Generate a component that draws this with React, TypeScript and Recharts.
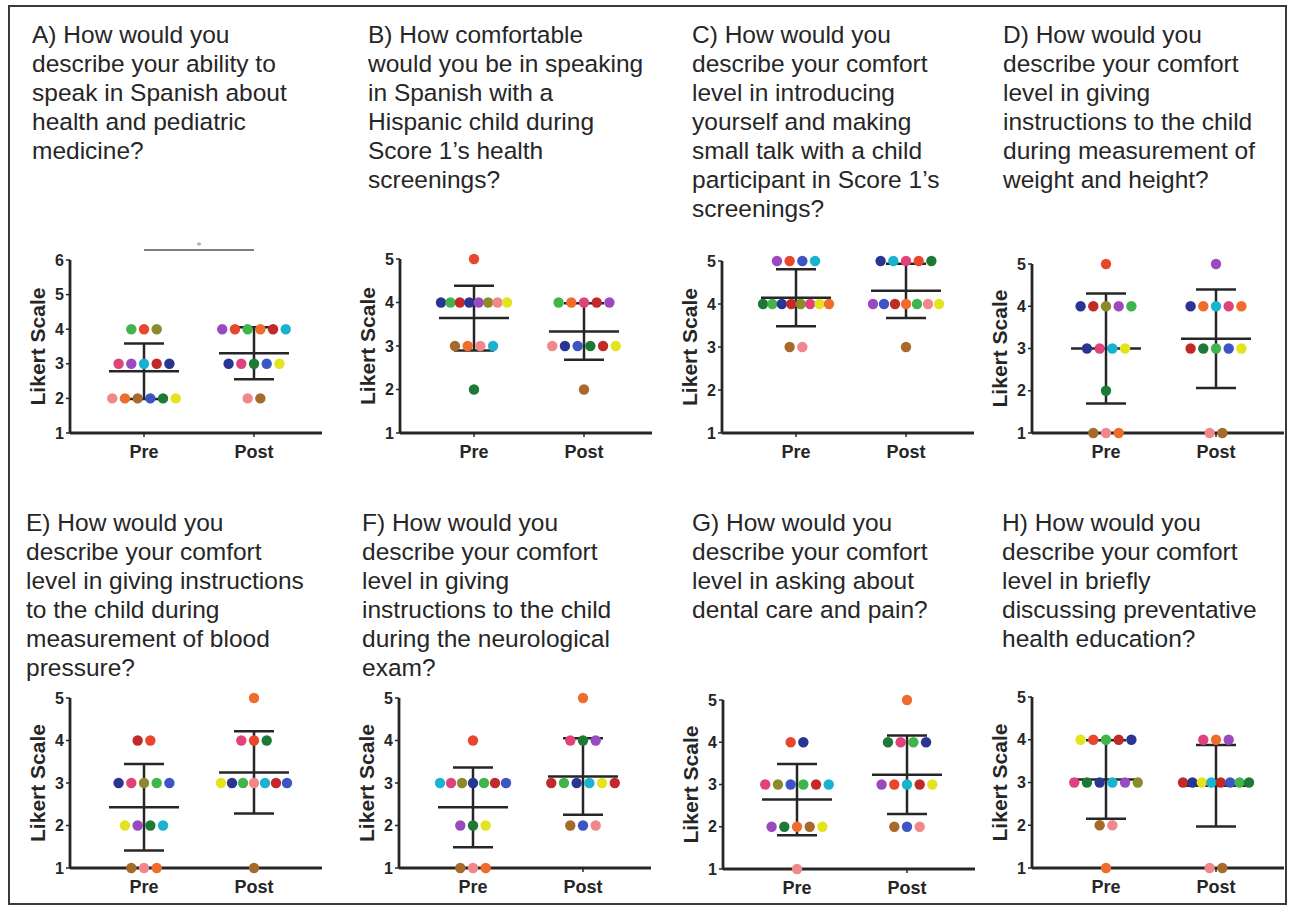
import React from "react";
import { ScatterChart, Scatter, XAxis, YAxis, ReferenceLine } from "recharts";

type Rows = [number, string[]][];

const PALETTE: Record<string, string> = {
  gr: "#3fb54c",
  rd: "#e8472e",
  ol: "#8c8a2c",
  pk: "#e0437b",
  pu: "#9a4ac0",
  cy: "#1ab3cf",
  dr: "#c22a2a",
  nv: "#2a3592",
  bl: "#3b55c4",
  sa: "#f0878a",
  or: "#f06c2c",
  br: "#a66a2a",
  dg: "#1c7a36",
  ye: "#e4e41e",
};

// values: [likert score, participant colours at that score]
const aPre: Rows = [[4, ["gr", "rd", "ol"]], [3, ["pk", "pu", "cy", "dr", "nv"]], [2, ["sa", "or", "br", "bl", "dg", "ye"]]];
const aPost: Rows = [[4, ["pu", "rd", "gr", "or", "dr", "cy"]], [3, ["nv", "pk", "dg", "bl", "ye"]], [2, ["sa", "br"]]];
const bPre: Rows = [[5, ["rd"]], [4, ["nv", "gr", "dr", "nv", "pu", "ol", "sa", "ye"]], [3, ["br", "or", "sa", "cy"]], [2, ["dg"]]];
const bPost: Rows = [[4, ["gr", "or", "pk", "dr", "pu"]], [3, ["sa", "nv", "bl", "dg", "dr", "ye"]], [2, ["br"]]];
const cPre: Rows = [[5, ["pu", "rd", "bl", "cy"]], [4, ["dg", "gr", "nv", "dr", "ol", "pk", "ye", "or"]], [3, ["br", "sa"]]];
const cPost: Rows = [[5, ["nv", "cy", "pk", "rd", "dg"]], [4, ["pu", "bl", "dr", "or", "gr", "sa", "ye"]], [3, ["br"]]];
const dPre: Rows = [[5, ["rd"]], [4, ["nv", "dr", "ol", "pu", "gr"]], [3, ["nv", "pk", "cy", "ye"]], [2, ["dg"]], [1, ["br", "sa", "or"]]];
const dPost: Rows = [[5, ["pu"]], [4, ["nv", "or", "cy", "pk", "or"]], [3, ["dr", "dg", "gr", "bl", "ye"]], [1, ["sa", "br"]]];
const ePre: Rows = [[4, ["dr", "rd"]], [3, ["nv", "pk", "ol", "gr", "bl"]], [2, ["ye", "pu", "dg", "cy"]], [1, ["br", "sa", "or"]]];
const ePost: Rows = [[5, ["or"]], [4, ["pk", "rd", "dg"]], [3, ["ye", "nv", "gr", "sa", "cy", "dr", "bl"]], [1, ["br"]]];
const fPre: Rows = [[4, ["rd"]], [3, ["cy", "pk", "ol", "nv", "gr", "dr", "bl"]], [2, ["pu", "dg", "ye"]], [1, ["br", "sa", "or"]]];
const fPost: Rows = [[5, ["or"]], [4, ["pk", "dg", "pu"]], [3, ["dr", "gr", "nv", "cy", "ye", "dr"]], [2, ["br", "bl", "sa"]]];
const gPre: Rows = [[4, ["rd", "nv"]], [3, ["pk", "ol", "bl", "gr", "dr", "cy"]], [2, ["pu", "dg", "or", "br", "ye"]], [1, ["sa"]]];
const gPost: Rows = [[5, ["or"]], [4, ["dg", "pk", "gr", "nv"]], [3, ["pu", "rd", "cy", "dr", "ye"]], [2, ["br", "bl", "sa"]]];
const hPre: Rows = [[4, ["ye", "rd", "gr", "dr", "nv"]], [3, ["pk", "dg", "nv", "cy", "pu", "ol"]], [2, ["br", "sa"]], [1, ["or"]]];
const hPost: Rows = [[4, ["pk", "or", "pu"]], [3, ["dr", "nv", "ye", "cy", "dr", "bl", "gr", "dg"]], [1, ["sa", "br"]]];

const titleA = ["A) How would you", "describe your ability to", "speak in Spanish about", "health and pediatric", "medicine?"];
const titleB = ["B) How comfortable", "would you be in speaking", "in Spanish with a", "Hispanic child during", "Score 1\u2019s health", "screenings?"];
const titleC = ["C) How would you", "describe your comfort", "level in introducing", "yourself and making", "small talk with a child", "participant in Score 1\u2019s", "screenings?"];
const titleD = ["D) How would you", "describe your comfort", "level in giving", "instructions to the child", "during measurement of", "weight and height?"];
const titleE = ["E) How would you", "describe your comfort", "level in giving instructions", "to the child during", "measurement of blood", "pressure?"];
const titleF = ["F) How would you", "describe your comfort", "level in giving", "instructions to the child", "during the neurological", "exam?"];
const titleG = ["G) How would you", "describe your comfort", "level in asking about", "dental care and pain?"];
const titleH = ["H) How would you", "describe your comfort", "level in briefly", "discussing preventative", "health education?"];

const FONT = "'Liberation Sans', Arial, sans-serif";
const INK = "#262626";
const PX_PER_UNIT = 110;
const AXIS_W = 62;
const PLOT_W = 252;
const TOP_PAD = 26;
const X_DOMAIN: [number, number] = [1 - 74 / PX_PER_UNIT, 1 + (PLOT_W - 74) / PX_PER_UNIT];

function toPoints(rows: Rows, group: number) {
  const pts: { x: number; y: number; color: string }[] = [];
  rows.forEach(([score, colors]) => {
    const n = colors.length;
    const step = n > 1 ? Math.min(12.7, 66 / (n - 1)) / PX_PER_UNIT : 0;
    colors.forEach((c, i) => {
      pts.push({ x: group + (i - (n - 1) / 2) * step, y: score, color: PALETTE[c] });
    });
  });
  return pts;
}

function stats(rows: Rows) {
  const vals: number[] = [];
  rows.forEach(([score, colors]) => colors.forEach(() => vals.push(score)));
  const mean = vals.reduce((s, v) => s + v, 0) / vals.length;
  const sd = Math.sqrt(vals.reduce((s, v) => s + (v - mean) ** 2, 0) / (vals.length - 1));
  return { mean, sd };
}

const dot = (p: any) => <circle cx={p.cx} cy={p.cy} r={5.2} fill={p.payload.color} />;

interface PanelProps {
  title: string[];
  tx: number;
  ty: number;
  axisX: number;
  plotTop: number;
  plotH: number;
  yMax: number;
  pre: Rows;
  post: Rows;
  sig?: boolean;
}

function Panel({ title, tx, ty, axisX, plotTop, plotH, yMax, pre, post, sig }: PanelProps) {
  const data = [...toPoints(pre, 1), ...toPoints(post, 2)];
  const groups = [
    { g: 1, ...stats(pre) },
    { g: 2, ...stats(post) },
  ];
  const meanHalf = 35 / PX_PER_UNIT;
  const capHalf = 20 / PX_PER_UNIT;
  const yTicks = Array.from({ length: yMax }, (_, i) => i + 1);
  const line = { stroke: INK, strokeWidth: 2.5, ifOverflow: "visible" as const };

  return (
    <>
      <div
        style={{
          position: "absolute",
          left: tx,
          top: ty,
          fontFamily: FONT,
          fontSize: 24.5,
          lineHeight: "29px",
          color: INK,
          whiteSpace: "nowrap",
        }}
      >
        {title.map((t) => (
          <div key={t}>{t}</div>
        ))}
      </div>
      <div style={{ position: "absolute", left: axisX - AXIS_W, top: plotTop - TOP_PAD }}>
        <ScatterChart
          width={AXIS_W + PLOT_W + 4}
          height={TOP_PAD + plotH + 40}
          margin={{ top: TOP_PAD, right: 4, bottom: 0, left: 0 }}
        >
          <XAxis
            type="number"
            dataKey="x"
            domain={X_DOMAIN}
            ticks={[1, 2]}
            tickFormatter={(v: number) => (v === 1 ? "Pre" : "Post")}
            height={40}
            axisLine={{ stroke: INK, strokeWidth: 2.8 }}
            tickLine={{ stroke: INK, strokeWidth: 1.5 }}
            tickSize={4}
            tickMargin={8}
            tick={{ fill: INK, fontSize: 18, fontWeight: 700, fontFamily: FONT }}
          />
          <YAxis
            type="number"
            dataKey="y"
            domain={[1, yMax]}
            ticks={yTicks}
            width={AXIS_W}
            axisLine={{ stroke: INK, strokeWidth: 2.8 }}
            tickLine={{ stroke: INK, strokeWidth: 1.5 }}
            tickSize={4}
            tickMargin={2}
            tick={{ fill: INK, fontSize: 16, fontWeight: 700, fontFamily: FONT }}
            label={{
              content: (props: any) => {
                const vb = props.viewBox || {};
                const cx = vb.x + vb.width - 33;
                const cy = vb.y + vb.height / 2;
                return (
                  <text
                    x={cx}
                    y={cy}
                    transform={`rotate(-90 ${cx} ${cy})`}
                    textAnchor="middle"
                    dominantBaseline="central"
                    fill={INK}
                    fontSize={21}
                    fontWeight={700}
                    fontFamily={FONT}
                  >
                    Likert Scale
                  </text>
                );
              },
            }}
          />
          <Scatter data={data} shape={dot} isAnimationActive={false} />
          {groups.map((s) => (
            <ReferenceLine
              key={`m${s.g}`}
              segment={[{ x: s.g - meanHalf, y: s.mean }, { x: s.g + meanHalf, y: s.mean }]}
              {...line}
            />
          ))}
          {groups.map((s) => (
            <ReferenceLine
              key={`v${s.g}`}
              segment={[{ x: s.g, y: s.mean - s.sd }, { x: s.g, y: s.mean + s.sd }]}
              {...line}
            />
          ))}
          {groups.map((s) => (
            <ReferenceLine
              key={`t${s.g}`}
              segment={[{ x: s.g - capHalf, y: s.mean + s.sd }, { x: s.g + capHalf, y: s.mean + s.sd }]}
              {...line}
            />
          ))}
          {groups.map((s) => (
            <ReferenceLine
              key={`b${s.g}`}
              segment={[{ x: s.g - capHalf, y: s.mean - s.sd }, { x: s.g + capHalf, y: s.mean - s.sd }]}
              {...line}
            />
          ))}
          {sig && (
            <ReferenceLine
              segment={[{ x: 1, y: yMax + 0.29 }, { x: 2, y: yMax + 0.29 }]}
              stroke="#555"
              strokeWidth={1.5}
              ifOverflow="visible"
              label={{ value: "*", position: "top", fontSize: 10, fill: "#888", offset: 1 }}
            />
          )}
        </ScatterChart>
      </div>
    </>
  );
}

export default function App() {
  return (
    <div style={{ position: "absolute", left: 0, top: 0, width: 1292, height: 912, background: "#fff" }}>
      <div
        style={{
          position: "absolute",
          left: 8,
          top: 5,
          width: 1279,
          height: 900,
          border: "2.5px solid #3a3a3a",
          boxSizing: "border-box",
        }}
      />
      <Panel title={titleA} tx={32} ty={20} axisX={70} plotTop={260} plotH={173} yMax={6} pre={aPre} post={aPost} sig />
      <Panel title={titleB} tx={368} ty={20} axisX={400} plotTop={259} plotH={174} yMax={5} pre={bPre} post={bPost} />
      <Panel title={titleC} tx={692} ty={20} axisX={722} plotTop={261} plotH={172} yMax={5} pre={cPre} post={cPost} />
      <Panel title={titleD} tx={1003} ty={20} axisX={1032} plotTop={264} plotH={169} yMax={5} pre={dPre} post={dPost} />
      <Panel title={titleE} tx={26} ty={508} axisX={70} plotTop={698} plotH={170} yMax={5} pre={ePre} post={ePost} />
      <Panel title={titleF} tx={362} ty={508} axisX={399} plotTop={698} plotH={170} yMax={5} pre={fPre} post={fPost} />
      <Panel title={titleG} tx={692} ty={508} axisX={723} plotTop={700} plotH={169} yMax={5} pre={gPre} post={gPost} />
      <Panel title={titleH} tx={1002} ty={508} axisX={1032} plotTop={697} plotH={171} yMax={5} pre={hPre} post={hPost} />
    </div>
  );
}
